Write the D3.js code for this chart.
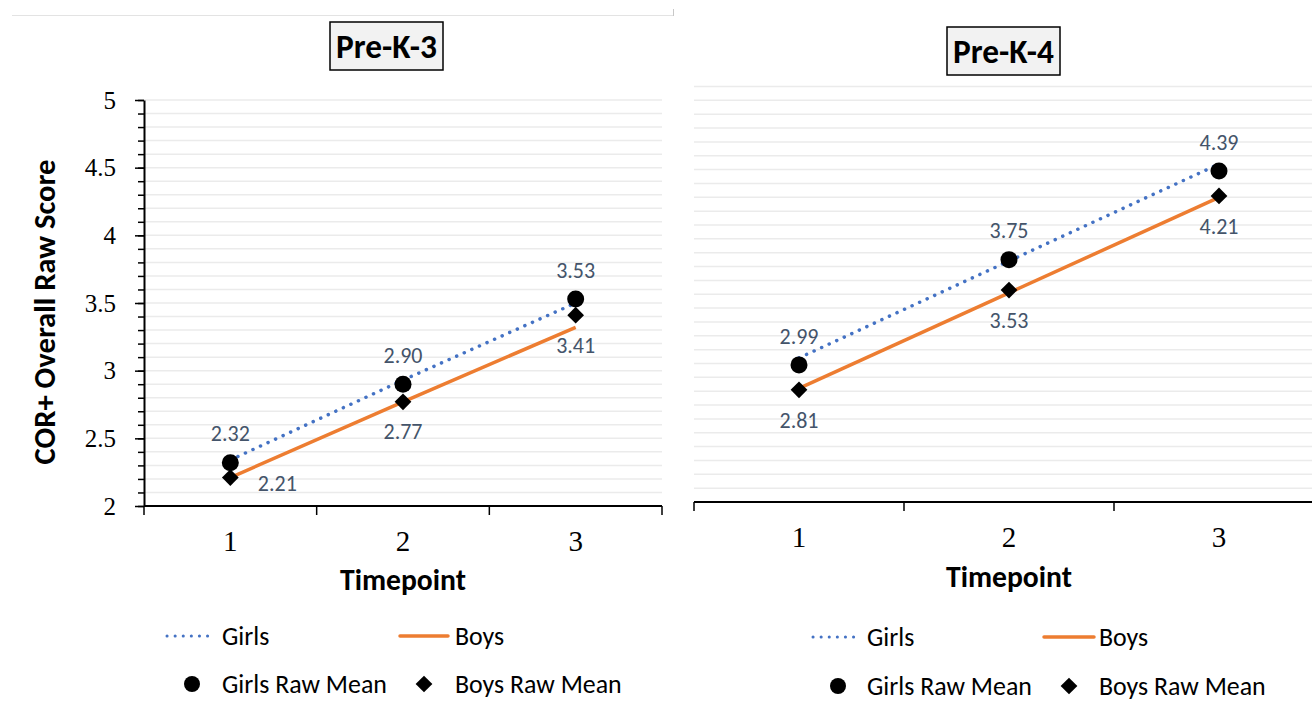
<!DOCTYPE html>
<html>
<head>
<meta charset="utf-8">
<script src="https://cdn.jsdelivr.net/npm/d3@7"></script>
<style>
  html, body { margin: 0; padding: 0; background: #ffffff; }
  svg { display: block; }
</style>
</head>
<body>
<svg id="chart" width="1312" height="709"></svg>
<script>
// ---- Data -------------------------------------------------------------
const timepoints = [1, 2, 3];
const yTicks = [2, 2.5, 3, 3.5, 4, 4.5, 5];
const seriesNames = ["Girls", "Boys", "Girls Raw Mean", "Boys Raw Mean"];
const panelTitles = ["Pre-K-3", "Pre-K-4"];

// Pre-K-3
const pk3GirlsMean  = [2.32, 2.90, 3.53];
const pk3BoysMean   = [2.21, 2.77, 3.41];
const pk3GirlsTrend = [2.34, 2.93, 3.50];
const pk3BoysTrend  = [2.21, 2.77, 3.32];

// Pre-K-4
const pk4GirlsMean  = [2.99, 3.75, 4.39];
const pk4BoysMean   = [2.81, 3.53, 4.21];
const pk4GirlsTrend = [3.04, 3.74, 4.44];
const pk4BoysTrend  = [2.82, 3.51, 4.20];

// ---- Style ------------------------------------------------------------
const SANS  = "Carlito, Lato, 'Open Sans', sans-serif";
const SERIF = "'Liberation Serif', 'Times New Roman', serif";
const BLUE = "#4472c4", ORANGE = "#ed7d31", LABEL = "#44546a", GRID = "#ebebeb";

const svg = d3.select("#chart");

// font size that makes a reference string span a given width
function sizeFor(str, weight, target) {
  const t = svg.append("text")
    .attr("font-family", SANS).attr("font-weight", weight)
    .attr("font-size", 20).text(str);
  const w = t.node().getComputedTextLength();
  t.remove();
  return 20 * target / w;
}
const labelSize      = sizeFor("2.32", 400, 39);
const legendSize     = sizeFor("Girls Raw Mean", 400, 165);
const axisTitleSize  = sizeFor("Timepoint", 700, 126);
const yTitleSize     = sizeFor("COR+ Overall Raw Score", 700, 305);
const panelTitleSize = sizeFor("Pre-K-3", 700, 101);

const diamond = d3.symbol().type(d3.symbolSquare).size(140);

// faint frame line across the top of the left figure
svg.append("line").attr("x1", 12).attr("x2", 673).attr("y1", 15.5).attr("y2", 15.5)
  .attr("stroke", "#e3e3e3").attr("stroke-width", 1);
svg.append("line").attr("x1", 673.5).attr("x2", 673.5).attr("y1", 9).attr("y2", 16)
  .attr("stroke", "#c8c8c8").attr("stroke-width", 1);

const panels = [
  {
    title: panelTitles[0],
    girlsMean: pk3GirlsMean, boysMean: pk3BoysMean,
    girlsTrend: pk3GirlsTrend, boysTrend: pk3BoysTrend,
    xRange: [144, 662], yRange: [506, 100],
    showYAxis: true,
    titleBox: { x: 330, y: 22, w: 113, h: 48 },
    xLabelBaseline: 551, xTitleBaseline: 590,
    boysLabelSides: ["right", "below", "below"],
    legend: { row1: 636, row2: 684, dotted: [167, 215], solid: [400, 448],
              girlsText: 222, boysText: 455, circleX: 192, diamondX: 424 }
  },
  {
    title: panelTitles[1],
    girlsMean: pk4GirlsMean, boysMean: pk4BoysMean,
    girlsTrend: pk4GirlsTrend, boysTrend: pk4BoysTrend,
    xRange: [694, 1324], yRange: [502, 86.5],
    showYAxis: false,
    titleBox: { x: 947, y: 27, w: 113, h: 48 },
    xLabelBaseline: 547, xTitleBaseline: 587,
    boysLabelSides: ["below", "below", "below"],
    legend: { row1: 637, row2: 686, dotted: [813, 860], solid: [1044, 1094],
              girlsText: 867, boysText: 1099, circleX: 838, diamondX: 1069 }
  }
];

function drawPanel(p) {
  const x = d3.scaleBand().domain(timepoints).range(p.xRange).padding(0);
  const y = d3.scaleLinear().domain([2, 5]).range(p.yRange);
  const cx = t => x(t) + x.bandwidth() / 2;
  const g = svg.append("g");

  // horizontal gridlines every 0.1
  const gridVals = d3.range(21, 51).map(v => v / 10);
  g.append("g").selectAll("line").data(gridVals).join("line")
    .attr("x1", p.xRange[0]).attr("x2", p.xRange[1])
    .attr("y1", d => y(d)).attr("y2", d => y(d))
    .attr("stroke", GRID).attr("stroke-width", 1.5);

  // y axis (major and minor ticks)
  if (p.showYAxis) {
    const minor = g.append("g").attr("transform", `translate(${p.xRange[0]},0)`)
      .call(d3.axisLeft(y).tickValues(d3.range(20, 51).map(v => v / 10))
        .tickSize(6).tickSizeOuter(0).tickFormat(""));
    minor.select(".domain").remove();
    minor.selectAll("line").attr("stroke", "#000").attr("stroke-width", 1.5);

    const major = g.append("g").attr("transform", `translate(${p.xRange[0]},0)`)
      .call(d3.axisLeft(y).tickValues(yTicks).tickSize(9).tickSizeOuter(0)
        .tickPadding(19).tickFormat(d3.format("")));
    major.select(".domain").attr("stroke", "#000").attr("stroke-width", 2);
    major.selectAll("line").attr("stroke", "#000").attr("stroke-width", 1.5);
    major.selectAll("text").attr("font-family", SERIF).attr("font-size", 25)
      .attr("fill", "#000");

    svg.append("text")
      .attr("transform", `translate(55,${(p.yRange[0] + p.yRange[1]) / 2 + 9}) rotate(-90)`)
      .attr("text-anchor", "middle").attr("font-family", SANS).attr("font-weight", 700)
      .attr("font-size", yTitleSize).attr("fill", "#000")
      .text("COR+ Overall Raw Score");
  }

  // x axis line with ticks at category boundaries
  const y0 = y(2);
  g.append("line").attr("x1", p.xRange[0]).attr("x2", p.xRange[1])
    .attr("y1", y0).attr("y2", y0).attr("stroke", "#000").attr("stroke-width", 2);
  const bounds = [p.xRange[0]].concat(timepoints.map(t => x(t) + x.bandwidth()));
  g.append("g").selectAll("line").data(bounds).join("line")
    .attr("x1", d => d).attr("x2", d => d)
    .attr("y1", y0).attr("y2", y0 + 9)
    .attr("stroke", "#000").attr("stroke-width", 1.5);
  g.append("g").selectAll("text").data(timepoints).join("text")
    .attr("x", d => cx(d)).attr("y", p.xLabelBaseline)
    .attr("text-anchor", "middle").attr("font-family", SERIF).attr("font-size", 29)
    .attr("fill", "#000").text(d => d);

  svg.append("text")
    .attr("x", cx(timepoints[1]))
    .attr("y", p.xTitleBaseline)
    .attr("text-anchor", "middle").attr("font-family", SANS).attr("font-weight", 700)
    .attr("font-size", axisTitleSize).attr("fill", "#000").text("Timepoint");

  // trend lines
  const line = d3.line().x((d, i) => cx(timepoints[i])).y(d => y(d));
  g.append("path").datum(p.girlsTrend).attr("d", line)
    .attr("fill", "none").attr("stroke", BLUE).attr("stroke-width", 3.5)
    .attr("stroke-linecap", "round").attr("stroke-dasharray", "0.1 8.2");
  g.append("path").datum(p.boysTrend).attr("d", line)
    .attr("fill", "none").attr("stroke", ORANGE).attr("stroke-width", 3.5);

  // raw means
  g.append("g").selectAll("circle").data(p.girlsMean).join("circle")
    .attr("cx", (d, i) => cx(timepoints[i])).attr("cy", d => y(d))
    .attr("r", 8.5).attr("fill", "#000");
  g.append("g").selectAll("path").data(p.boysMean).join("path")
    .attr("d", diamond)
    .attr("transform", (d, i) => `translate(${cx(timepoints[i])},${y(d)}) rotate(45)`)
    .attr("fill", "#000");

  // value labels
  const fmt = d3.format(".2f");
  g.append("g").selectAll("text").data(p.girlsMean).join("text")
    .attr("x", (d, i) => cx(timepoints[i])).attr("y", d => y(d) - 29 + labelSize * 0.35)
    .attr("text-anchor", "middle").attr("font-family", SANS)
    .attr("font-size", labelSize).attr("fill", LABEL).text(fmt);
  g.append("g").selectAll("text").data(p.boysMean).join("text")
    .attr("x", (d, i) => cx(timepoints[i]) + (p.boysLabelSides[i] === "right" ? 47 : 0))
    .attr("y", (d, i) => y(d) + (p.boysLabelSides[i] === "right" ? 6 : 30) + labelSize * 0.35)
    .attr("text-anchor", "middle").attr("font-family", SANS)
    .attr("font-size", labelSize).attr("fill", LABEL).text(fmt);

  // title box
  const tb = p.titleBox;
  svg.append("rect").attr("x", tb.x).attr("y", tb.y).attr("width", tb.w).attr("height", tb.h)
    .attr("fill", "#f2f2f2").attr("stroke", "#000").attr("stroke-width", 1.5);
  svg.append("text").attr("x", tb.x + tb.w / 2).attr("y", tb.y + tb.h / 2 + panelTitleSize * 0.35)
    .attr("text-anchor", "middle").attr("font-family", SANS).attr("font-weight", 700)
    .attr("font-size", panelTitleSize).attr("fill", "#000").text(p.title);

  // legend
  const L = p.legend;
  const lg = svg.append("g").attr("font-family", SANS).attr("font-size", legendSize).attr("fill", "#000");
  lg.append("line").attr("x1", L.dotted[0]).attr("x2", L.dotted[1]).attr("y1", L.row1).attr("y2", L.row1)
    .attr("stroke", BLUE).attr("stroke-width", 3).attr("stroke-linecap", "round")
    .attr("stroke-dasharray", "0.1 8");
  lg.append("text").attr("x", L.girlsText).attr("y", L.row1 + legendSize * 0.33).text(seriesNames[0]);
  lg.append("line").attr("x1", L.solid[0]).attr("x2", L.solid[1]).attr("y1", L.row1).attr("y2", L.row1)
    .attr("stroke", ORANGE).attr("stroke-width", 3.5).attr("stroke-linecap", "round");
  lg.append("text").attr("x", L.boysText).attr("y", L.row1 + legendSize * 0.33).text(seriesNames[1]);
  lg.append("circle").attr("cx", L.circleX).attr("cy", L.row2).attr("r", 8).attr("fill", "#000");
  lg.append("text").attr("x", L.girlsText).attr("y", L.row2 + legendSize * 0.33).text(seriesNames[2]);
  lg.append("path").attr("d", diamond)
    .attr("transform", `translate(${L.diamondX},${L.row2}) rotate(45)`).attr("fill", "#000");
  lg.append("text").attr("x", L.boysText).attr("y", L.row2 + legendSize * 0.33).text(seriesNames[3]);
}

panels.forEach(drawPanel);
</script>
</body>
</html>
